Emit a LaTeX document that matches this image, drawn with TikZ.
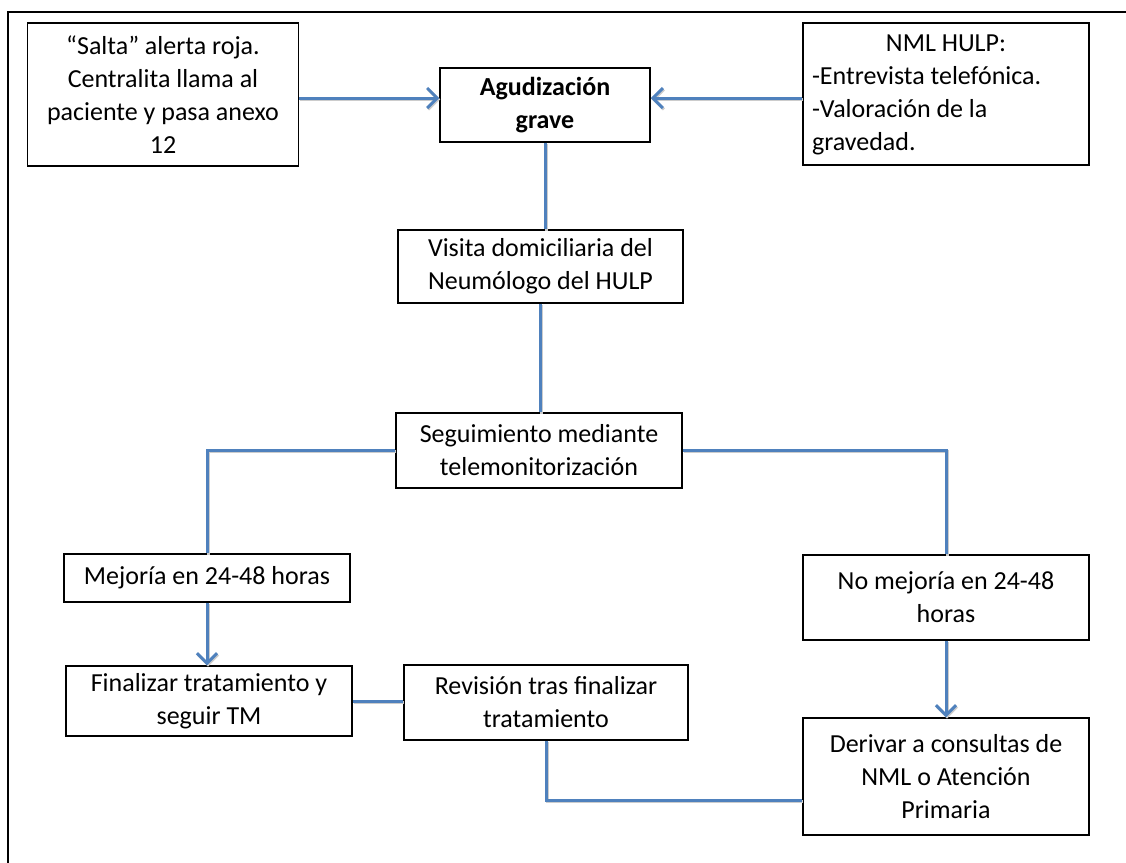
\documentclass[tikz,border=0pt]{standalone}
\usepackage{fontspec}
\setmainfont{Carlito}
\usetikzlibrary{arrows.meta}
\definecolor{linkblue}{RGB}{79,129,189}
\tikzset{
  box/.style={draw=black, line width=0.75pt, fill=white, align=center,
    inner sep=0pt, font=\fontsize{13}{16.5}\selectfont},
  conn/.style={line width=1.5pt, draw=linkblue,
    preaction={draw=black!20, line width=1.5pt,
      transform canvas={xshift=0.5pt,yshift=-0.7pt}}},
  arr/.style={conn, -{Straight Barb[length=5pt,width=10pt,line width=1.5pt]}}
}
\begin{document}
\begin{tikzpicture}[x=0.5pt,y=-0.5pt]
  \useasboundingbox (0,0) rectangle (1126,863);
  % outer frame, only its top and left sides fall inside the page
  \draw[line width=1pt] (8,880) -- (8,12) -- (1140,12);

  % boxes
  \node[box, minimum width=135.5pt, minimum height=71.5pt] (salta) at (163,94.5)
    {“Salta” alerta roja.\\Centralita llama al\\paciente y pasa anexo\\12};
  \node[box, minimum width=105pt, minimum height=37pt, font=\fontsize{13}{16.5}\selectfont\bfseries] (agud) at (545,105)
    {Agudización\\grave};
  \node[box, minimum width=143pt, minimum height=71pt] (nml) at (946,94)
    {\begin{tabular}{@{}l@{}}
      \makebox[134pt][c]{NML HULP:}\\
      -Entrevista telefónica.\\
      -Valoración de la\\
      gravedad.
    \end{tabular}};
  \node[box, minimum width=142.5pt, minimum height=36.5pt] (visita) at (540.5,266.5)
    {Visita domiciliaria del\\Neumólogo del HULP};
  \node[box, minimum width=143pt, minimum height=37.5pt] (seg) at (539,450.5)
    {Seguimiento mediante\\telemonitorización};
  \node[box, minimum width=143pt, minimum height=24pt] (mejora) at (207,578)
    {Mejoría en 24-48 horas};
  \node[box, minimum width=143pt, minimum height=35pt] (final) at (209,701)
    {Finalizar tratamiento y\\seguir TM};
  \node[box, minimum width=142pt, minimum height=37.5pt] (revision) at (546,702.5)
    {Revisión tras finalizar\\tratamiento};
  \node[box, minimum width=143pt, minimum height=42.5pt] (nomejora) at (946,597.5)
    {No mejoría en 24-48\\horas};
  \node[box, minimum width=143pt, minimum height=58.5pt] (derivar) at (946,776.5)
    {Derivar a consultas de\\NML o Atención\\Primaria};

  % rows used by the connectors
  \coordinate (toprow) at (0,98);
  \coordinate (lowrow) at (0,800);

  % connectors
  \draw[arr] (salta.east |- toprow) -- (agud.west |- toprow);
  \draw[arr] (nml.west |- toprow) -- (agud.east |- toprow);
  \draw[conn] (agud.south) -- (agud.south |- visita.north);
  \draw[conn] (visita.south) -- (visita.south |- seg.north);
  \draw[conn] (seg.west) -| (mejora.north);
  \draw[conn] (seg.east) -| (nomejora.north);
  \draw[arr] (mejora.south) -- (mejora.south |- final.north);
  \draw[arr] (nomejora.south) -- (derivar.north);
  \draw[conn] (final.east) -- (final.east -| revision.west);
  \draw[conn] (revision.south) -- (revision.south |- lowrow) -- (derivar.west |- lowrow);
\end{tikzpicture}
\end{document}
